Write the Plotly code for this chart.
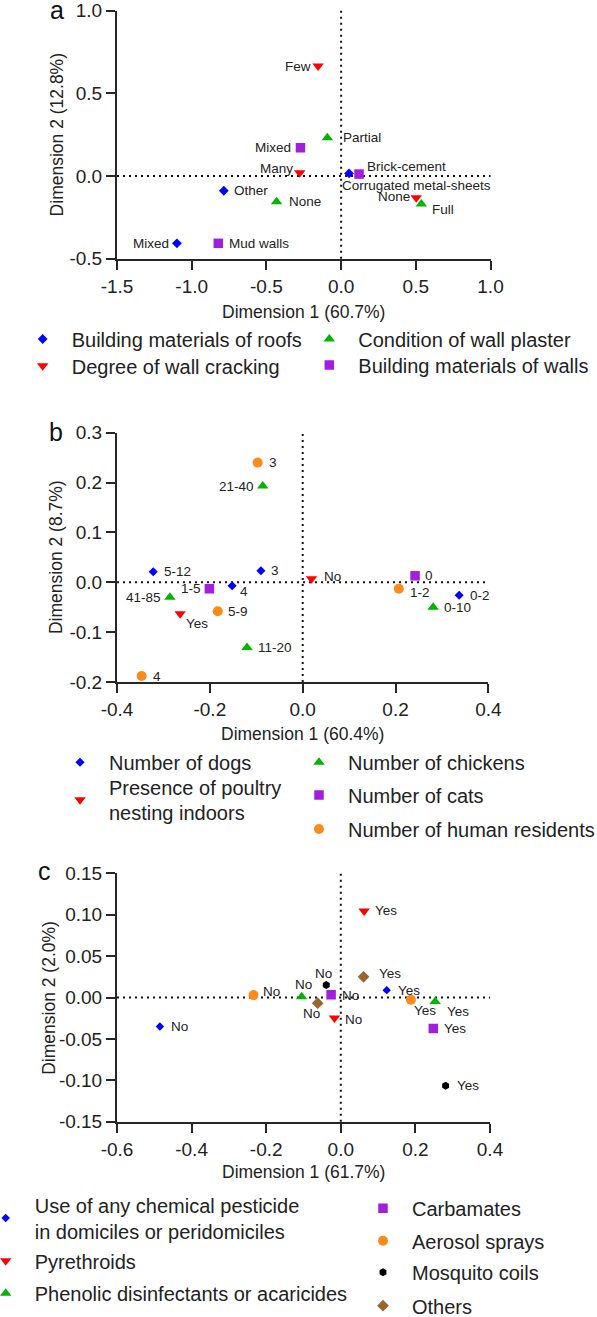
import plotly.graph_objects as go

W, H = 597, 1317
FONT = "Liberation Sans, Arial, sans-serif"
TXT = "#222222"

# ---------------- Panel a data ----------------
a_series = ["Building materials of roofs", "Degree of wall cracking",
            "Condition of wall plaster", "Building materials of walls"]
a_roofs_lab = ["Mixed", "Other", "Corrugated metal-sheets"]
a_roofs_x = [-1.099, -0.785, 0.053]
a_roofs_y = [-0.407, -0.089, 0.016]
a_crack_lab = ["Few", "Many", "None"]
a_crack_x = [-0.154, -0.277, 0.503]
a_crack_y = [0.665, 0.020, -0.131]
a_plast_lab = ["Partial", "None", "Full"]
a_plast_x = [-0.092, -0.432, 0.537]
a_plast_y = [0.232, -0.155, -0.169]
a_walls_lab = ["Mixed", "Brick-cement", "Mud walls"]
a_walls_x = [-0.272, 0.120, -0.822]
a_walls_y = [0.171, 0.012, -0.407]
a_xticks = [-1.5, -1.0, -0.5, 0.0, 0.5, 1.0]
a_xticktext = ["-1.5", "-1.0", "-0.5", "0.0", "0.5", "1.0"]
a_yticks = [-0.5, 0.0, 0.5, 1.0]
a_yticktext = ["-0.5", "0.0", "0.5", "1.0"]
a_xtitle = "Dimension 1 (60.7%)"
a_ytitle = "Dimension 2 (12.8%)"

# ---------------- Panel b data ----------------
b_series = ["Number of dogs", "Presence of poultry<br>nesting indoors",
            "Number of chickens", "Number of cats", "Number of human residents"]
b_dogs_lab = ["5-12", "3", "4", "0-2"]
b_dogs_x = [-0.322, -0.090, -0.152, 0.337]
b_dogs_y = [0.021, 0.023, -0.007, -0.026]
b_poul_lab = ["Yes", "No"]
b_poul_x = [-0.264, 0.019]
b_poul_y = [-0.063, 0.007]
b_chick_lab = ["21-40", "41-85", "11-20", "0-10"]
b_chick_x = [-0.086, -0.286, -0.120, 0.281]
b_chick_y = [0.193, -0.030, -0.131, -0.050]
b_cats_lab = ["1-5", "0"]
b_cats_x = [-0.201, 0.242]
b_cats_y = [-0.013, 0.013]
b_res_lab = ["3", "5-9", "4", "1-2"]
b_res_x = [-0.097, -0.183, -0.347, 0.207]
b_res_y = [0.240, -0.058, -0.188, -0.013]
b_xticks = [-0.4, -0.2, 0.0, 0.2, 0.4]
b_xticktext = ["-0.4", "-0.2", "0.0", "0.2", "0.4"]
b_yticks = [-0.2, -0.1, 0.0, 0.1, 0.2, 0.3]
b_yticktext = ["-0.2", "-0.1", "0.0", "0.1", "0.2", "0.3"]
b_xtitle = "Dimension 1 (60.4%)"
b_ytitle = "Dimension 2 (8.7%)"

# ---------------- Panel c data ----------------
c_series = ["Use of any chemical pesticide<br>in domiciles or peridomiciles",
            "Pyrethroids", "Phenolic disinfectants or acaricides",
            "Carbamates", "Aerosol sprays", "Mosquito coils", "Others"]
c_pest_lab = ["No", "Yes"]
c_pest_x = [-0.485, 0.123]
c_pest_y = [-0.035, 0.0089]
c_pyr_lab = ["Yes", "No"]
c_pyr_x = [0.0625, -0.017]
c_pyr_y = [0.1046, -0.0248]
c_phen_lab = ["No", "Yes"]
c_phen_x = [-0.105, 0.253]
c_phen_y = [0.001, -0.0048]
c_carb_lab = ["No", "Yes"]
c_carb_x = [-0.026, 0.248]
c_carb_y = [0.0033, -0.0374]
c_aer_lab = ["No", "Yes"]
c_aer_x = [-0.234, 0.188]
c_aer_y = [0.0029, -0.0028]
c_coil_lab = ["No", "Yes"]
c_coil_x = [-0.039, 0.281]
c_coil_y = [0.015, -0.1065]
c_oth_lab = ["Yes", "No"]
c_oth_x = [0.061, -0.062]
c_oth_y = [0.025, -0.0068]
c_xticks = [-0.6, -0.4, -0.2, 0.0, 0.2, 0.4]
c_xticktext = ["-0.6", "-0.4", "-0.2", "0.0", "0.2", "0.4"]
c_yticks = [-0.15, -0.10, -0.05, 0.0, 0.05, 0.10, 0.15]
c_yticktext = ["-0.15", "-0.10", "-0.05", "0.00", "0.05", "0.10", "0.15"]
c_xtitle = "Dimension 1 (61.7%)"
c_ytitle = "Dimension 2 (2.0%)"

# ---------------- styles (not data) ----------------
BLUE, RED, GREEN, PURPLE, ORANGE, BLACK, BROWN = (
    "#0000FF", "#FF0000", "#00B400", "#A01EDC", "#FF8A1C", "#000000", "#99662E")

# panel geometry in pixels: (x0, x1, ytop, ybottom)
geom = {1: (117, 490.5, 10.7, 258.7), 2: (117, 488.4, 432.7, 682.0), 3: (117, 490.0, 873.3, 1121.7)}

fig = go.Figure()
annotations = []
legend_layouts = {}
legend_count = [0]


def px2paper_x(px):
    return px / W


def px2paper_y(py):
    return 1 - py / H


def add_series(panel, name, xs, ys, labs, color, symbol, size, offsets, leg_pos):
    legend_count[0] += 1
    lname = "legend" if legend_count[0] == 1 else f"legend{legend_count[0]}"
    xa = "x" if panel == 1 else f"x{panel}"
    ya = "y" if panel == 1 else f"y{panel}"
    fig.add_trace(go.Scatter(
        x=xs, y=ys, mode="markers", name=name, xaxis=xa, yaxis=ya,
        marker=dict(color=color, symbol=symbol, size=size, line=dict(width=0)),
        legend=lname, showlegend=True, cliponaxis=False))
    sx, sy = leg_pos
    legend_layouts[lname] = dict(
        x=px2paper_x(sx - 29), y=px2paper_y(sy - 1), xanchor="left", yanchor="middle",
        bgcolor="rgba(0,0,0,0)", borderwidth=0, itemwidth=48, itemsizing="trace",
        font=dict(family=FONT, size=20, color=TXT), orientation="v")
    for xv, yv, lab, (anc, dx, dy) in zip(xs, ys, labs, offsets):
        annotations.append(dict(
            x=xv, y=yv, xref=xa, yref=ya, text=lab, showarrow=False,
            xanchor=anc, yanchor="middle", xshift=dx, yshift=-dy,
            font=dict(family=FONT, size=13.5, color=TXT)))


# Panel a
add_series(1, a_series[0], a_roofs_x, a_roofs_y, a_roofs_lab, BLUE, "diamond", 7.5,
           [("right", -6, 0), ("left", 8, 0), ("left", -9, 12)], (42.7, 340))
add_series(1, a_series[1], a_crack_x, a_crack_y, a_crack_lab, RED, "triangle-down", 10,
           [("right", -5, 0), ("right", -5, -4), ("right", -4, -1)], (42.7, 366.7))
add_series(1, a_series[2], a_plast_x, a_plast_y, a_plast_lab, GREEN, "triangle-up", 10,
           [("left", 14, 0), ("left", 10, 0), ("left", 9, 6)], (329.3, 340))
add_series(1, a_series[3], a_walls_x, a_walls_y, a_walls_lab, PURPLE, "square", 9.5,
           [("right", -7, 0), ("left", 6, -8), ("left", 9, 0)], (329.3, 366.0))

# Panel b
add_series(2, b_series[0], b_dogs_x, b_dogs_y, b_dogs_lab, BLUE, "diamond", 7,
           [("left", 9, 0), ("left", 8, 0), ("left", 6, 6), ("left", 9, 0)], (80, 763.3))
add_series(2, b_series[1], b_poul_x, b_poul_y, b_poul_lab, RED, "triangle-down", 10,
           [("left", 4, 10), ("left", 10, -2)], (80, 800.7))
add_series(2, b_series[2], b_chick_x, b_chick_y, b_chick_lab, GREEN, "triangle-up", 10,
           [("right", -7, 0), ("right", -7, 0), ("left", 9, 0), ("left", 9, 0)], (319, 763.3))
add_series(2, b_series[3], b_cats_x, b_cats_y, b_cats_lab, PURPLE, "square", 9.5,
           [("right", -6, 0), ("left", 8, 0)], (319, 796))
add_series(2, b_series[4], b_res_x, b_res_y, b_res_lab, ORANGE, "circle", 10,
           [("left", 9, 0), ("left", 8, 0), ("left", 9, 0), ("left", 9, 4)], (319, 830))

# Panel c
add_series(3, c_series[0], c_pest_x, c_pest_y, c_pest_lab, BLUE, "diamond", 6.5,
           [("left", 9, 0), ("left", 9, 0)], (5.7, 1219))
add_series(3, c_series[1], c_pyr_x, c_pyr_y, c_pyr_lab, RED, "triangle-down", 10,
           [("left", 9, 0), ("left", 9, 1)], (5.7, 1261.7))
add_series(3, c_series[2], c_phen_x, c_phen_y, c_phen_lab, GREEN, "triangle-up", 10,
           [("center", 2, -12), ("left", 10, 10)], (5.7, 1294.3))
add_series(3, c_series[3], c_carb_x, c_carb_y, c_carb_lab, PURPLE, "square", 9.5,
           [("left", 9, 1), ("left", 9, 0)], (383, 1209.3))
add_series(3, c_series[4], c_aer_x, c_aer_y, c_aer_lab, ORANGE, "circle", 10,
           [("left", 7, -4), ("center", 14, 11)], (383, 1241.7))
add_series(3, c_series[5], c_coil_x, c_coil_y, c_coil_lab, BLACK, "hexagon", 8,
           [("center", -3, -12), ("left", 9, 0)], (383, 1273.3))
add_series(3, c_series[6], c_oth_x, c_oth_y, c_oth_lab, BROWN, "diamond", 9,
           [("left", 13, -3), ("center", -6, 10)], (383, 1306.7))

panels = {
    1: (a_xticks, a_xticktext, a_yticks, a_yticktext, a_xtitle, a_ytitle, [-1.5, 1.0], [-0.5, 1.0]),
    2: (b_xticks, b_xticktext, b_yticks, b_yticktext, b_xtitle, b_ytitle, [-0.4, 0.4], [-0.2, 0.3]),
    3: (c_xticks, c_xticktext, c_yticks, c_yticktext, c_xtitle, c_ytitle, [-0.6, 0.4], [-0.15, 0.15]),
}
ytitle_x = {1: 56.7, 2: 56.7, 3: 48.3}
xtitle_y = {1: 311.7, 2: 734.0, 3: 1171.7}

layout = dict(
    width=W, height=H, paper_bgcolor="white", plot_bgcolor="white",
    margin=dict(l=0, r=0, t=0, b=0, autoexpand=False),
    font=dict(family=FONT, color=TXT),
)
shapes = []
for p, (xt, xtt, yt, ytt, xtitle, ytitle, xr, yr) in panels.items():
    x0, x1, yt0, yb0 = geom[p]
    sfx = "" if p == 1 else str(p)
    axstyle = dict(showgrid=False, zeroline=False, showline=True, linecolor="#262626",
                   linewidth=2, ticks="outside", ticklen=9, tickwidth=2, tickcolor="#262626",
                   tickfont=dict(family=FONT, size=19, color=TXT), fixedrange=True)
    layout["xaxis" + sfx] = dict(axstyle, domain=[x0 / W, x1 / W], range=xr,
                                 tickvals=xt, ticktext=xtt, anchor="y" + sfx)
    layout["yaxis" + sfx] = dict(axstyle, domain=[1 - yb0 / H, 1 - yt0 / H], range=yr,
                                 tickvals=yt, ticktext=ytt, anchor="x" + sfx)
    # dotted reference lines at zero
    shapes.append(dict(type="line", xref="x" + sfx + " domain", yref="y" + sfx,
                       x0=0, x1=1, y0=0, y1=0, layer="below",
                       line=dict(color="#111111", width=2, dash="2px,4px")))
    shapes.append(dict(type="line", xref="x" + sfx, yref="y" + sfx + " domain",
                       x0=0, x1=0, y0=0, y1=1, layer="below",
                       line=dict(color="#111111", width=2, dash="2px,4px")))
    # axis titles
    annotations.append(dict(x=(x0 + x1) / 2 / W, y=px2paper_y(xtitle_y[p]), xref="paper", yref="paper",
                            text=xtitle, showarrow=False, xanchor="center", yanchor="middle",
                            font=dict(family=FONT, size=17.5, color=TXT)))
    annotations.append(dict(x=px2paper_x(ytitle_x[p]), y=px2paper_y((yt0 + yb0) / 2), xref="paper",
                            yref="paper", text=ytitle, showarrow=False, textangle=-90,
                            xanchor="center", yanchor="middle",
                            font=dict(family=FONT, size=17.5, color=TXT)))

# panel letters
for letter, (lx, ly) in {"a": (57, 9.5), "b": (56, 432), "c": (45, 871.3)}.items():
    annotations.append(dict(x=px2paper_x(lx), y=px2paper_y(ly), xref="paper", yref="paper",
                            text=letter, showarrow=False, xanchor="center", yanchor="middle",
                            borderpad=0, font=dict(family=FONT, size=25, color="#111111")))

layout["shapes"] = shapes
layout["annotations"] = annotations
layout.update(legend_layouts)
fig.update_layout(**layout)
fig.write_html("out.html", config={"displayModeBar": False},
               post_script="document.body.style.margin='0';document.body.style.padding='0';")
